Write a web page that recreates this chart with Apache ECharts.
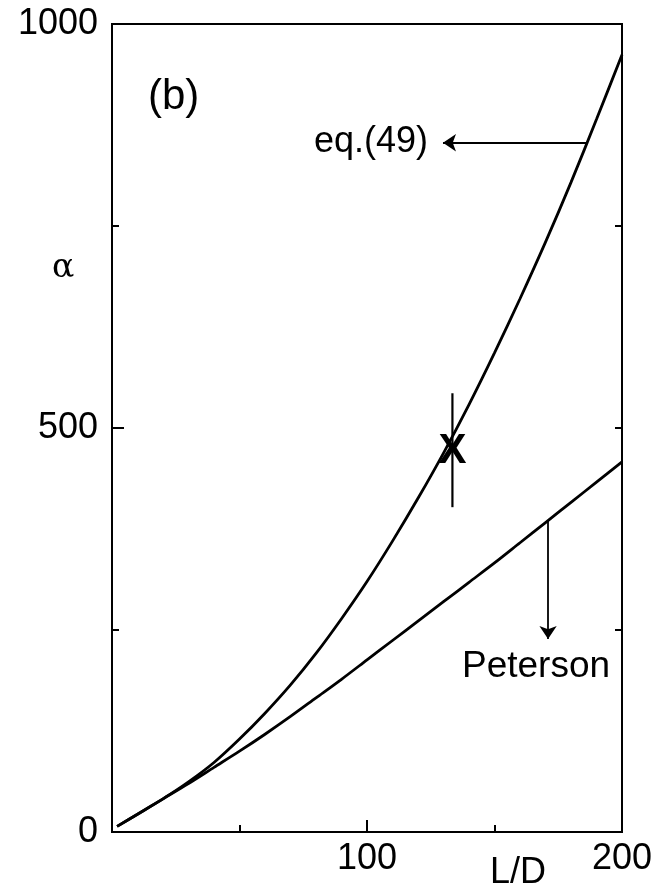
<!DOCTYPE html>
<html>
<head>
<meta charset="utf-8">
<script src="https://cdn.jsdelivr.net/npm/echarts@6/dist/echarts.min.js"></script>
<style>
html,body{margin:0;padding:0;background:#fff;}
#chart{width:657px;height:894px;}
</style>
</head>
<body>
<div id="chart"></div>
<script>
// L/D sample points
var ldValues = [2, 10, 20, 30, 40, 50, 60, 70, 80, 90, 100, 110, 120, 130, 140, 150, 160, 170, 180, 190, 200];
// alpha from eq.(49)
var eq49Values = [7, 22, 41, 62, 86, 115, 147, 182, 221, 264, 310, 360, 413, 469, 529, 593, 660, 730, 804, 882, 962];
// alpha from Peterson
var petersonValues = [7, 22, 41, 60, 80, 100, 121, 143, 166, 189, 213, 237, 261, 285, 309, 333, 358, 383, 408, 433, 458];
// measured point with error bar
var markerPoint = [133.5, 471];
var errorBarRange = [402, 543];
// annotation arrows: [from, to] in data coordinates
var eq49Arrow = [[186, 853], [129.8, 853]];
var petersonArrow = [[171, 386], [171, 239]];
var xTickLabels = {100: '100', 200: '200'};
var yTickLabels = {0: '0', 500: '500', 1000: '1000'};

function pairs(xs, ys) { return xs.map(function (x, i) { return [x, ys[i]]; }); }

var chart = echarts.init(document.getElementById('chart'));
var font = 'Liberation Sans, Arial, Helvetica, sans-serif';
var lineStyle = {color: '#000', width: 2.8};

chart.setOption({
  animation: false,
  backgroundColor: '#fff',
  grid: {left: 112, top: 24, width: 510, height: 808, show: true, borderColor: '#000', borderWidth: 2, backgroundColor: 'transparent'},
  xAxis: [
    {type: 'value', min: 0, max: 200, interval: 100, position: 'bottom',
     axisLine: {show: false}, splitLine: {show: false},
     axisTick: {inside: true, length: 12, lineStyle: {color: '#000', width: 2}},
     axisLabel: {margin: 9, fontSize: 36, color: '#000', fontFamily: font,
       formatter: function (v) { return xTickLabels[v] || ''; }}},
    {type: 'value', min: 0, max: 200, interval: 50, position: 'bottom',
     axisLine: {show: false}, splitLine: {show: false}, axisLabel: {show: false},
     axisTick: {inside: true, length: 7, lineStyle: {color: '#000', width: 2}}}
  ],
  yAxis: [
    {type: 'value', min: 0, max: 1000, interval: 500, position: 'left',
     axisLine: {show: false}, splitLine: {show: false},
     axisTick: {inside: true, length: 12, lineStyle: {color: '#000', width: 2}},
     axisLabel: {margin: 14, fontSize: 36, color: '#000', fontFamily: font,
       formatter: function (v) { return yTickLabels[v] || ''; }}},
    {type: 'value', min: 0, max: 1000, interval: 250, position: 'left',
     axisLine: {show: false}, splitLine: {show: false}, axisLabel: {show: false},
     axisTick: {inside: true, length: 7, lineStyle: {color: '#000', width: 2}}},
    {type: 'value', min: 0, max: 1000, interval: 250, position: 'right',
     axisLine: {show: false}, splitLine: {show: false}, axisLabel: {show: false},
     axisTick: {inside: true, length: 7, lineStyle: {color: '#000', width: 2}}}
  ],
  series: [
    {name: 'eq.(49)', type: 'line', data: pairs(ldValues, eq49Values), smooth: 0.3,
     showSymbol: false, lineStyle: lineStyle, z: 3},
    {name: 'Peterson', type: 'line', data: pairs(ldValues, petersonValues), smooth: 0.3,
     showSymbol: false, lineStyle: lineStyle, z: 3},
    {name: 'error', type: 'line', data: [[markerPoint[0], errorBarRange[0]], [markerPoint[0], errorBarRange[1]]],
     showSymbol: false, lineStyle: {color: '#000', width: 2.2}, z: 3},
    {name: 'arrows', type: 'lines', coordinateSystem: 'cartesian2d',
     symbol: ['none', 'arrow'], symbolSize: [0, 13],
     lineStyle: {color: '#000', width: 1.8, opacity: 1},
     data: [{coords: eq49Arrow}, {coords: petersonArrow}], z: 3}
  ],
  graphic: [
    {type: 'text', left: 148, top: 76, style: {text: '(b)', fontSize: 42, fill: '#000', fontFamily: font}},
    {type: 'text', left: 314, top: 124, style: {text: 'eq.(49)', fontSize: 36, fill: '#000', fontFamily: font}},
    {type: 'text', left: 462, top: 648, style: {text: 'Peterson', fontSize: 37, fill: '#000', fontFamily: font}},
    {type: 'text', left: 52, top: 252, style: {text: 'α', fontSize: 33, fill: '#000', fontFamily: 'DejaVu Serif, Liberation Serif, serif'}},
    {type: 'text', left: 490, top: 855, style: {text: 'L/D', fontSize: 36, fill: '#000', fontFamily: font}}
  ]
});

// marker "X" placed at the measured point through the axes' scale
var px = chart.convertToPixel({xAxisIndex: 0, yAxisIndex: 0}, markerPoint);
chart.setOption({
  graphic: [
    {type: 'text', id: 'markerX', x: px[0], y: px[1], z: 10,
     style: {text: 'X', fontSize: 42, fontWeight: 'bold', fontFamily: font, fill: '#000', align: 'center', verticalAlign: 'middle'}}
  ]
});
</script>
</body>
</html>
